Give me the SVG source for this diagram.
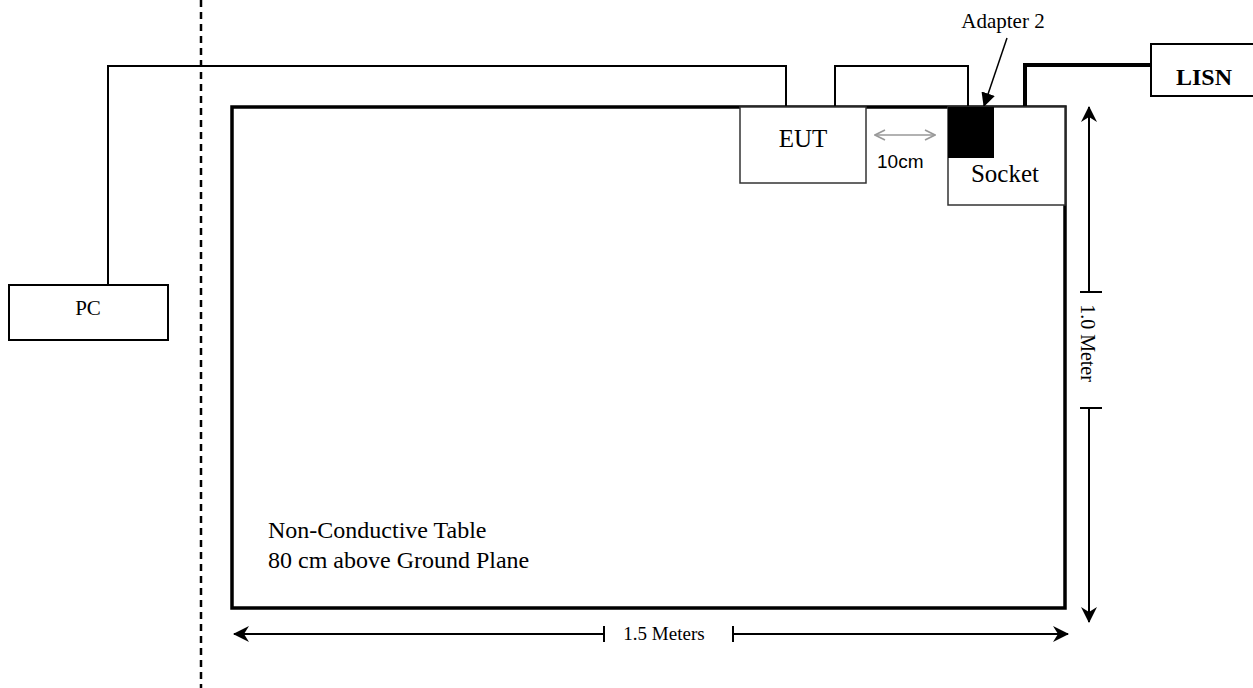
<svg xmlns="http://www.w3.org/2000/svg" width="1253" height="688" viewBox="0 0 1253 688">
<style>
.t{font-family:"Liberation Serif","Times New Roman",serif;fill:#000}
.a{font-family:"Liberation Sans",Arial,sans-serif;fill:#000}
.box{fill:#fff;stroke:#000;stroke-width:2}
.cab{fill:none;stroke:#000;stroke-width:2}
.dim{fill:none;stroke:#000;stroke-width:2}
</style>
<defs>
<marker id="ch" viewBox="0 0 16 16" refX="15" refY="8" markerWidth="16" markerHeight="16" markerUnits="userSpaceOnUse" orient="auto-start-reverse">
<path d="M0,0 L16,8 L0,16 L5,8 Z" fill="#000"/>
</marker>
<marker id="chg" viewBox="0 0 12 12" refX="11" refY="6" markerWidth="12" markerHeight="12" markerUnits="userSpaceOnUse" orient="auto-start-reverse">
<path d="M1,1 L11,6 L1,11" fill="none" stroke="#999" stroke-width="1.6"/>
</marker>
<marker id="tri" viewBox="0 0 14 14" refX="13" refY="7" markerWidth="14" markerHeight="14" markerUnits="userSpaceOnUse" orient="auto">
<path d="M0,0 L14,7 L0,14 Z" fill="#000"/>
</marker>
</defs>
<rect width="1253" height="688" fill="#fff"/>
<line x1="201" y1="0" x2="201" y2="688" stroke="#000" stroke-width="2.5" stroke-dasharray="7 5"/>
<g id="table">
<rect x="232" y="107" width="833" height="501" fill="none" stroke="#000" stroke-width="3.5"/>
<text class="t" x="268" y="538" font-size="24">Non-Conductive Table</text>
<text class="t" x="268" y="568" font-size="24">80 cm above Ground Plane</text>
</g>
<g id="connectors">
<polyline class="cab" points="108,285 108,66 786,66 786,107"/>
<polyline class="cab" points="835,107 835,66 968,66 968,107"/>
<polyline fill="none" stroke="#000" stroke-width="4" points="1025,107 1025,65 1151,65"/>
<line x1="1007" y1="38" x2="984" y2="106" stroke="#000" stroke-width="1.5" marker-end="url(#tri)"/>
<line x1="875" y1="135" x2="935" y2="135" stroke="#999" stroke-width="1.6" marker-start="url(#chg)" marker-end="url(#chg)"/>
</g>
<g id="eut">
<rect x="740" y="107" width="126" height="76" fill="#fff" stroke="#333" stroke-width="1.5"/>
<text class="t" x="803" y="147" font-size="25" text-anchor="middle">EUT</text>
</g>
<text class="a" x="877" y="168" font-size="19">10cm</text>
<g id="socket">
<rect x="948" y="107" width="117" height="98" fill="#fff" stroke="#333" stroke-width="1.5"/>
<text class="t" x="1005" y="182" font-size="25" text-anchor="middle">Socket</text>
</g>
<g id="adapter">
<rect x="948" y="107" width="46" height="51" fill="#000"/>
<text class="t" x="1003" y="28" font-size="21" text-anchor="middle">Adapter 2</text>
</g>
<g id="lisn">
<rect x="1151" y="44" width="110" height="52" class="box"/>
<text class="t" x="1204" y="85" font-size="24" font-weight="bold" text-anchor="middle">LISN</text>
</g>
<g id="pc">
<rect x="9" y="285" width="159" height="55" class="box"/>
<text class="t" x="88" y="315" font-size="21" text-anchor="middle">PC</text>
</g>
<g id="dimensions">
<line class="dim" x1="1089" y1="292" x2="1089" y2="107" marker-end="url(#ch)"/>
<line class="dim" x1="1089" y1="408" x2="1089" y2="622" marker-end="url(#ch)"/>
<line class="dim" x1="1080" y1="292" x2="1102" y2="292"/>
<line class="dim" x1="1080" y1="408" x2="1102" y2="408"/>
<text class="t" font-size="20" text-anchor="middle" transform="translate(1081,343) rotate(90)">1.0 Meter</text>
<line class="dim" x1="604" y1="634" x2="234" y2="634" marker-end="url(#ch)"/>
<line class="dim" x1="733" y1="634" x2="1068" y2="634" marker-end="url(#ch)"/>
<line class="dim" x1="604" y1="626" x2="604" y2="642"/>
<line class="dim" x1="733" y1="626" x2="733" y2="642"/>
<text class="t" x="664" y="640" font-size="19" text-anchor="middle">1.5 Meters</text>
</g>
</svg>
